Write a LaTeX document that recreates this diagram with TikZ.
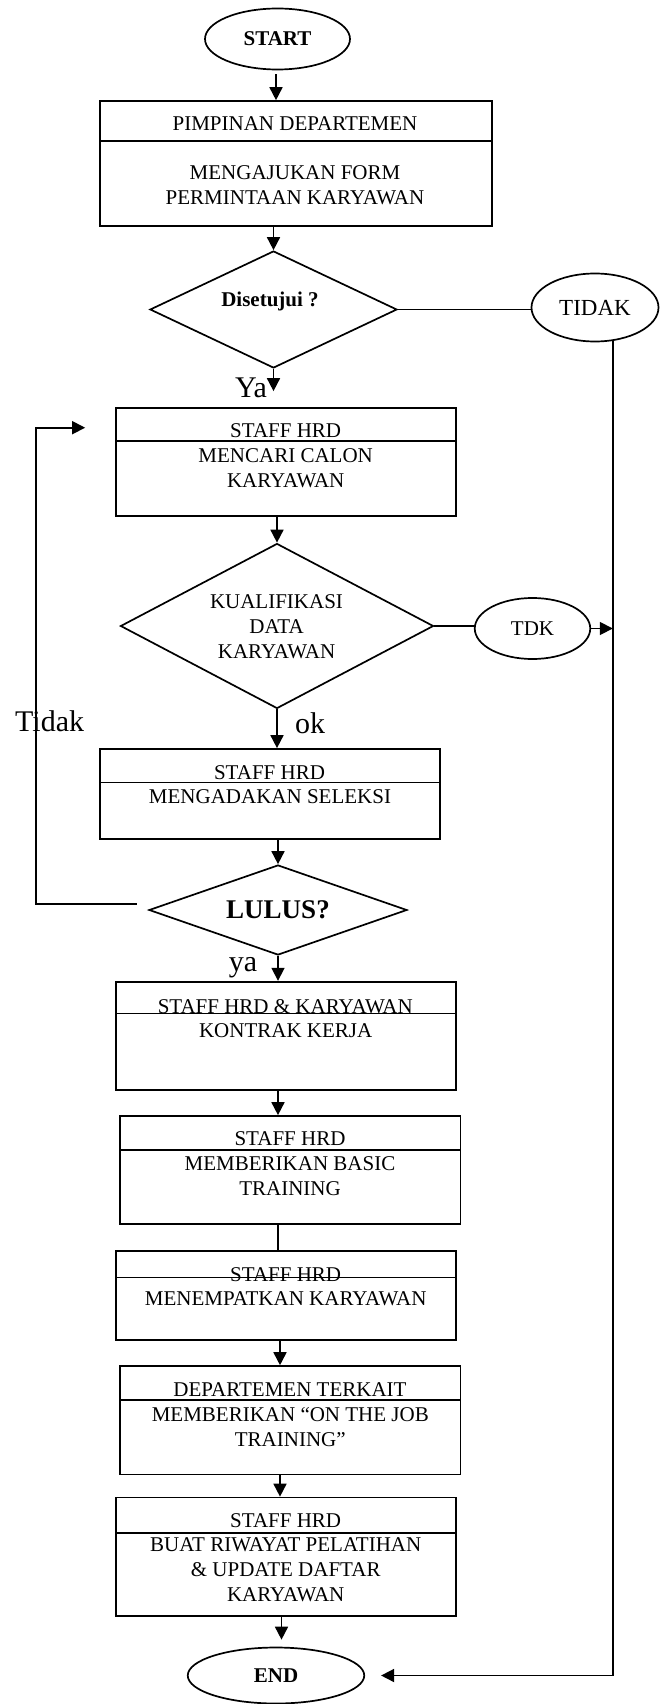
\documentclass[tikz,border=0pt]{standalone}
\usepackage{fontspec}
\setmainfont{Liberation Serif}
\usetikzlibrary{shapes.geometric,arrows.meta}
\begin{document}
\begin{tikzpicture}[x=1pt,y=-1pt,
  line width=1.7pt,
  boxnode/.style={draw, rectangle, inner sep=0pt},
  oval/.style={draw, ellipse, inner sep=0pt},
  dec/.style={draw, diamond, inner sep=0pt},
  txt/.style={inner sep=0pt, align=center, font=\fontsize{21}{25}\selectfont},
  big/.style={inner sep=0pt, font=\fontsize{30}{34}\selectfont},
  arr/.style={-{Triangle[length=13pt,width=13pt]}},
]
\useasboundingbox (0,0) rectangle (659,1704);

% ---------- nodes ----------
\node[oval, minimum width=145, minimum height=61, font=\bfseries\fontsize{21}{24}\selectfont] (nstart) at (277.5,39) {START};

\node[boxnode, minimum width=392, minimum height=124.7] (b1) at (296,163.4) {};
\draw ([yshift=-41pt]b1.north west) -- ([yshift=-41pt]b1.north east);
\node[txt] (b1t) at (295,124) {PIMPINAN DEPARTEMEN};
\node[txt] (b1b) at (295,185.5) {MENGAJUKAN FORM\\PERMINTAAN KARYAWAN};

\node[dec, minimum width=247, minimum height=117] (d1) at (273.5,309.5) {};
\node[inner sep=0pt, font=\bfseries\fontsize{21}{24}\selectfont] (d1t) at (270,301.7) {Disetujui ?};

\node[oval, minimum width=127, minimum height=68, font=\fontsize{23}{26}\selectfont] (tidak) at (595,307.5) {TIDAK};

\node[big] (ya1) at (251,388) {Ya};

\node[boxnode, minimum width=340, minimum height=108] (b2) at (286,462) {};
\draw ([yshift=-34pt]b2.north west) -- ([yshift=-34pt]b2.north east);
\node[txt] (b2t) at (285.7,430.7) {STAFF HRD};
\node[txt] (b2b) at (285.7,468.3) {MENCARI CALON\\KARYAWAN};

\node[dec, minimum width=313, minimum height=165] (d2) at (277,626) {};
\node[txt] (d2t) at (276.5,626.7) {KUALIFIKASI\\DATA\\KARYAWAN};

\node[oval, minimum width=115.5, minimum height=61, font=\fontsize{21}{24}\selectfont] (tdk) at (532.5,628.5) {TDK};

\node[big] (oklbl) at (310,723.3) {ok};
\node[big] (tidaklbl) at (49.6,721.7) {Tidak};

\node[boxnode, minimum width=340, minimum height=90] (b3) at (270,794) {};
\draw ([yshift=-34.3pt]b3.north west) -- ([yshift=-34.3pt]b3.north east);
\node[txt] (b3t) at (269.5,772.7) {STAFF HRD};
\node[txt] (b3b) at (270,796.7) {MENGADAKAN SELEKSI};

\node[dec, minimum width=258, minimum height=90] (lulus) at (278,910) {};
\node[inner sep=0pt, font=\bfseries\fontsize{27}{30}\selectfont] (lulust) at (278,910) {LULUS?};

\node[big] (ya2) at (243,968) {ya};

\node[boxnode, minimum width=340, minimum height=108.3] (b4) at (286,1035.8) {};
\draw ([yshift=-32.6pt]b4.north west) -- ([yshift=-32.6pt]b4.north east);
\node[txt] (b4t) at (285.3,1006.7) {STAFF HRD \& KARYAWAN};
\node[txt] (b4b) at (285.7,1030.7) {KONTRAK KERJA};

\node[boxnode, minimum width=340.5, minimum height=108] (b5) at (290.2,1170) {};
\draw ([yshift=-35pt]b5.north west) -- ([yshift=-35pt]b5.north east);
\node[txt] (b5t) at (290,1138.3) {STAFF HRD};
\node[txt] (b5b) at (290,1176.2) {MEMBERIKAN BASIC\\TRAINING};

\node[boxnode, minimum width=340, minimum height=89] (b6) at (286,1295.5) {};
\draw ([yshift=-27.3pt]b6.north west) -- ([yshift=-27.3pt]b6.north east);
\node[txt] (b6t) at (285.7,1275) {STAFF HRD};
\node[txt] (b6b) at (285.7,1298.3) {MENEMPATKAN KARYAWAN};

\node[boxnode, minimum width=340.5, minimum height=108.3] (b7) at (290.2,1420.2) {};
\draw ([yshift=-34.7pt]b7.north west) -- ([yshift=-34.7pt]b7.north east);
\node[txt] (b7t) at (290,1389.3) {DEPARTEMEN TERKAIT};
\node[txt] (b7b) at (290.3,1426.7) {MEMBERIKAN “ON THE JOB\\TRAINING”};

\node[boxnode, minimum width=340, minimum height=118.2] (b8) at (286,1556.6) {};
\draw ([yshift=-36.5pt]b8.north west) -- ([yshift=-36.5pt]b8.north east);
\node[txt] (b8t) at (285.7,1520.7) {STAFF HRD};
\node[txt] (b8b) at (285.7,1570) {BUAT RIWAYAT PELATIHAN\\\& UPDATE DAFTAR\\KARYAWAN};

\node[oval, minimum width=176.5, minimum height=56, font=\bfseries\fontsize{21}{24}\selectfont] (nend) at (276,1675.5) {END};

% ---------- helper coordinates ----------
\coordinate (cA) at (276,0);
\coordinate (cC) at (280,0);
\coordinate (cD) at (281.5,0);
\coordinate (rtop) at (tidak.-62.6);
\coordinate (rbot) at (rtop |- nend.east);
\coordinate (fb1) at ([xshift=-11.3pt,yshift=6pt]lulus.west);
\coordinate (fb4) at ([xshift=-30pt,yshift=34.3pt]b2.west);
\coordinate (fbx) at (36,0);

% ---------- connectors ----------
\draw[arr, shorten <=4pt] (nstart.south -| cA) -- (b1.north -| cA);
\draw[arr] (b1.south -| d1.north) -- (d1.north);
\draw (d1.east) -- (d1.east -| tidak.west);
\draw[arr, shorten >=16pt] (d1.south) -- (d1.south |- b2.north);
\draw[arr] (b2.south -| d2.north) -- (d2.north);
\draw (d2.east) -- (d2.east -| tdk.west);
\draw[arr] (tdk.east) -- (tdk.east -| rtop);
\draw[arr, shorten >=16pt] (rtop) -- (rbot) -- (nend.east);
\draw[arr] (d2.south) -- (d2.south |- b3.north);
\draw[arr] (b3.south -| lulus.north) -- (lulus.north);
\draw[arr] (fb1) -- (fb1 -| fbx) -- (fb4 -| fbx) -- (fb4);
\draw[arr] (lulus.south) -- (lulus.south |- b4.north);
\draw[arr] (b4.south -| lulus.south) -- (b5.north -| lulus.south);
\draw (b5.south -| lulus.south) -- (b6.north -| lulus.south);
\draw[arr] (b6.south -| cC) -- (b7.north -| cC);
\draw[arr] (b7.south -| cC) -- (b8.north -| cC);
\draw[arr, shorten >=7pt] (b8.south -| cD) -- (nend.north -| cD);
\end{tikzpicture}
\end{document}
